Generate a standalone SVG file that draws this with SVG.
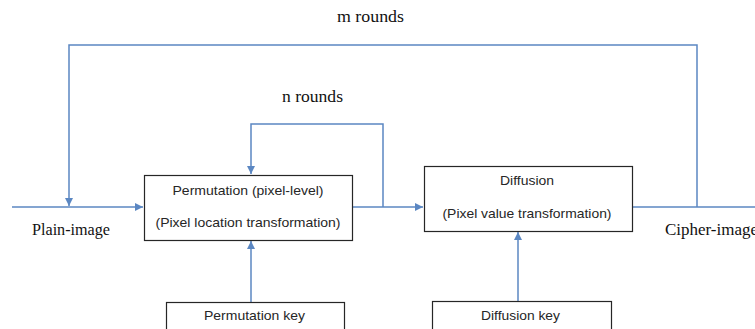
<svg xmlns="http://www.w3.org/2000/svg" width="755" height="329" viewBox="0 0 755 329">
  <style>
    .wire { fill: none; stroke: #5b87c2; stroke-width: 1.5; }
    .box { fill: #ffffff; stroke: #262626; stroke-width: 1.2; }
    .sans { font-family: "Liberation Sans", Arial, sans-serif; font-size: 13.5px; fill: #262626; text-anchor: middle; dominant-baseline: central; }
    .serif { font-family: "Liberation Serif", "Times New Roman", serif; font-size: 16px; fill: #111111; dominant-baseline: central; }
  </style>
  <defs>
    <marker id="arrow" viewBox="0 0 10 10" refX="10" refY="5" markerWidth="8" markerHeight="8" markerUnits="userSpaceOnUse" orient="auto">
      <path d="M0,0 L10,5 L0,10 z" fill="#5b87c2"/>
    </marker>
  </defs>
  <rect width="755" height="329" fill="#ffffff"/>

  <g id="connectors">
    <!-- outer loop: m rounds -->
    <path class="wire" d="M697,207 V45 H69 V206" marker-end="url(#arrow)"/>
    <!-- inner loop: n rounds -->
    <path class="wire" d="M383,207 V124 H251 V174" marker-end="url(#arrow)"/>
    <!-- main flow -->
    <path class="wire" d="M12,207 H143" marker-end="url(#arrow)"/>
    <path class="wire" d="M353,207 H423" marker-end="url(#arrow)"/>
    <path class="wire" d="M632,207 H755"/>
    <!-- keys -->
    <path class="wire" d="M251,302 V241" marker-end="url(#arrow)"/>
    <path class="wire" d="M518,301 V232" marker-end="url(#arrow)"/>
  </g>

  <g id="permutation">
    <rect class="box" x="144.5" y="175.5" width="208" height="65"/>
    <text class="sans" x="248" y="190" textLength="151" lengthAdjust="spacingAndGlyphs">Permutation (pixel-level)</text>
    <text class="sans" x="248" y="222" textLength="185" lengthAdjust="spacingAndGlyphs">(Pixel location transformation)</text>
  </g>

  <g id="diffusion">
    <rect class="box" x="424.5" y="166.5" width="208" height="65"/>
    <text class="sans" x="527" y="180" textLength="54" lengthAdjust="spacingAndGlyphs">Diffusion</text>
    <text class="sans" x="527" y="213" textLength="169" lengthAdjust="spacingAndGlyphs">(Pixel value transformation)</text>
  </g>

  <g id="permutation-key">
    <rect class="box" x="166.5" y="302.5" width="178" height="40"/>
    <text class="sans" x="254.5" y="315" textLength="101" lengthAdjust="spacingAndGlyphs">Permutation key</text>
  </g>

  <g id="diffusion-key">
    <rect class="box" x="432.5" y="301.5" width="179" height="40"/>
    <text class="sans" x="520.5" y="315" textLength="79" lengthAdjust="spacingAndGlyphs">Diffusion key</text>
  </g>

  <g id="labels">
    <text class="serif" x="337" y="16" textLength="67" lengthAdjust="spacingAndGlyphs">m rounds</text>
    <text class="serif" x="282" y="96" textLength="61" lengthAdjust="spacingAndGlyphs">n rounds</text>
    <text class="serif" x="32" y="229" textLength="78" lengthAdjust="spacingAndGlyphs">Plain-image</text>
    <text class="serif" x="665" y="229" textLength="93" lengthAdjust="spacingAndGlyphs">Cipher-image</text>
  </g>
</svg>
